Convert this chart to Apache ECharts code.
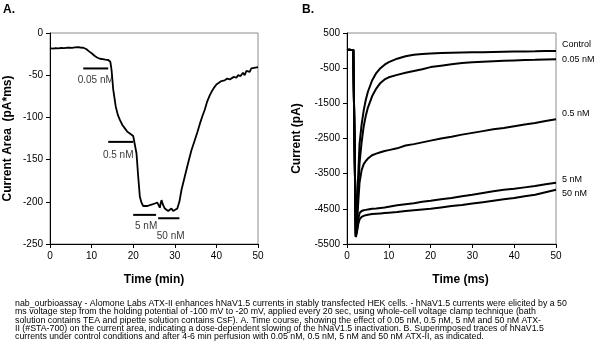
<!DOCTYPE html>
<html><head><meta charset="utf-8">
<script src="https://cdn.jsdelivr.net/npm/echarts@6/dist/echarts.min.js"></script>
<style>html,body{margin:0;padding:0;background:#fff}#c{width:596px;height:359px}</style>
</head><body><div id="c"></div>
<script>
// ---------- Panel A: current area time course ----------
const timeA = [0,0.7,1.3,2,2.7,3.3,4,4.7,5.3,6,6.7,7.3,8,8.7,9.3,10,10.7,11.3,12,12.7,13.3,14,14.5,14.8,15.2,15.8,16.3,16.8,17.4,18,18.6,19.2,19.6,20,20.4,20.8,21.2,21.6,22,22.4,22.8,23.3,24,24.6,25.2,25.8,26.2,26.4,26.6,26.8,27.2,27.6,28,28.4,28.8,29.2,29.6,30,30.6,31.1,31.6,32.4,33.2,34,34.8,35.4,36,36.6,37.2,37.8,38.4,38.8,39.4,40,40.6,41.2,42,42.6,43.2,43.6,44.2,44.8,45.2,45.8,46.4,46.8,47.2,47.6,48,48.4,48.8,49.4,50];
const areaA = [-18,-18.5,-18,-18.2,-17.6,-18,-17.5,-17.3,-17.6,-17,-16.8,-17.2,-17.5,-19,-21.5,-24,-27,-29,-30.5,-31,-31.5,-32,-34,-44,-67,-87,-97,-103,-109,-113,-117,-119,-121,-122,-124,-143,-170,-194,-201,-205,-206,-205,-204,-203,-202,-201,-199,-207,-202,-198,-204,-208,-207,-211,-209,-208,-211,-210,-208,-200,-186,-170,-154,-139,-127,-118,-108,-99,-91,-81,-74,-70,-65,-61,-59,-57,-56,-54,-55,-53,-52,-53,-50,-51,-47,-50,-45,-44,-46,-42,-43,-41,-40.5];
const annLabels = ['0.05 nM','0.5 nM','5 nM','50 nM'];
const annStart  = [8, 14, 20, 26];
const annEnd    = [14, 20, 25.5, 31.1];
const annLevel  = [-42, -129, -215.5, -219.5];
const annTextX  = [11, 16.4, 23.1, 29];
const annTextY  = [-56, -144.5, -229, -240.5];

// ---------- Panel B: superimposed current traces ----------
const timeB = [0,0.5,1,1.5,1.8,2.1,2.4,2.7,3,3.5,4,4.5,5,6,7,8,9,10,12,14,16,18,20,22.5,25,27.5,30,32.5,35,37.5,40,42.5,45,47.5,50];
const traceNames = ['Control','0.05 nM','0.5 nM','5 nM','50 nM'];
const control = [20,25,20,20,-2600,-5200,-4300,-3500,-2650,-2100,-1700,-1400,-1170,-850,-640,-500,-400,-330,-230,-160,-120,-100,-85,-72,-62,-55,-48,-44,-38,-32,-28,-24,-20,-15,-10];
const nM005   = [20,25,20,20,-2600,-5250,-4600,-3900,-3200,-2600,-2150,-1850,-1620,-1300,-1080,-920,-820,-760,-690,-630,-580,-530,-470,-430,-390,-355,-335,-315,-300,-290,-280,-270,-262,-252,-243];
const nM05    = [20,25,20,20,-2600,-5280,-4900,-4300,-3750,-3400,-3230,-3140,-3070,-2975,-2930,-2890,-2855,-2830,-2780,-2700,-2660,-2610,-2560,-2500,-2450,-2390,-2340,-2290,-2240,-2200,-2150,-2100,-2060,-2000,-1950];
const nM5     = [20,25,20,20,-2600,-5300,-5100,-4800,-4620,-4560,-4540,-4530,-4520,-4500,-4490,-4475,-4460,-4440,-4400,-4370,-4340,-4300,-4270,-4230,-4190,-4140,-4100,-4050,-4000,-3960,-3930,-3890,-3850,-3800,-3760];
const nM50    = [20,25,20,20,-2600,-5300,-5150,-4930,-4800,-4730,-4700,-4680,-4670,-4650,-4640,-4630,-4620,-4610,-4590,-4560,-4540,-4520,-4500,-4460,-4420,-4390,-4350,-4310,-4270,-4230,-4190,-4140,-4100,-4030,-3960];
const traceVals = [control, nM005, nM05, nM5, nM50];
const endLabelDy = [-6, 0, -6, -3, 4];

const caption = [
 'nab_ourbioassay - Alomone Labs ATX-II enhances hNaV1.5 currents in stably transfected HEK cells. - hNaV1.5 currents were elicited by a 50',
 'ms voltage step from the holding potential of -100 mV to -20 mV, applied every 20 sec, using whole-cell voltage clamp technique (bath',
 'solution contains TEA and pipette solution contains CsF). A. Time course, showing the effect of 0.05 nM, 0.5 nM, 5 nM and 50 nM ATX-',
 'II (#STA-700) on the current area, indicating a dose-dependent slowing of the hNaV1.5 inactivation. B. Superimposed traces of hNaV1.5',
 'currents under control conditions and after 4-6 min perfusion with 0.05 nM, 0.5 nM, 5 nM and 50 nM ATX-II, as indicated.'
];

const sans = '"Liberation Sans",Arial,sans-serif';

function xAx(idx, name, pad) {
  return {
    type: 'value', gridIndex: idx, min: 0, max: 50, interval: 10,
    name: name, nameLocation: 'middle', nameGap: 30,
    nameTextStyle: {fontFamily: sans, fontWeight: 'bold', fontSize: 12, color: '#000', padding: pad},
    axisLine: {show: true, onZero: false, lineStyle: {color: '#000', width: 1}},
    axisTick: {show: true, length: 4, lineStyle: {color: '#000'}},
    axisLabel: {fontFamily: sans, fontSize: 10, color: '#000', margin: 7, formatter: v => String(v)},
    splitLine: {show: false}
  };
}
function yAx(idx, name, min, max, interval, gap) {
  return {
    type: 'value', gridIndex: idx, min: min, max: max, interval: interval,
    name: name, nameLocation: 'middle', nameGap: gap, nameRotate: 90,
    nameTextStyle: {fontFamily: sans, fontWeight: 'bold', fontSize: 12, color: '#000'},
    axisLine: {show: true, onZero: false, lineStyle: {color: '#000', width: 1}},
    axisTick: {show: true, length: 4, lineStyle: {color: '#000'}},
    axisLabel: {fontFamily: sans, fontSize: 10, color: '#000', margin: 7, formatter: v => String(v)},
    splitLine: {show: false}
  };
}

const series = [];
series.push({
  type: 'line', xAxisIndex: 0, yAxisIndex: 0, symbol: 'none',
  data: timeA.map((t, i) => [t, areaA[i]]),
  lineStyle: {color: '#000', width: 1.8}, z: 3
});
annLabels.forEach((lab, i) => {
  series.push({
    type: 'line', xAxisIndex: 0, yAxisIndex: 0, symbol: 'none',
    data: [[annStart[i], annLevel[i]], [annEnd[i], annLevel[i]]],
    lineStyle: {color: '#000', width: 2}
  });
});
series.push({
  type: 'scatter', xAxisIndex: 0, yAxisIndex: 0, symbolSize: 0,
  data: annLabels.map((lab, i) => [annTextX[i], annTextY[i], lab]),
  label: {show: true, position: 'inside', formatter: p => p.data[2],
          fontFamily: sans, fontSize: 10, color: '#000'},
  itemStyle: {color: 'rgba(0,0,0,0)'}
});
traceNames.forEach((nm, i) => {
  series.push({
    type: 'line', name: nm, xAxisIndex: 1, yAxisIndex: 1, symbol: 'none',
    data: timeB.map((t, k) => [t, traceVals[i][k]]),
    lineStyle: {color: '#000', width: 2},
    endLabel: {show: true, formatter: '{a}', distance: 6, offset: [0, endLabelDy[i]],
               fontFamily: sans, fontSize: 9, color: '#000'}
  });
});

const graphic = [
  {type: 'text', left: 3, top: 4, style: {text: 'A.', font: 'bold 12px ' + sans, fill: '#000'}},
  {type: 'text', left: 302, top: 4, style: {text: 'B.', font: 'bold 12px ' + sans, fill: '#000'}}
];
caption.forEach((ln, i) => {
  graphic.push({type: 'text', left: 15, top: 299 + i * 8.35,
    style: {text: ln, font: '8.8px ' + sans, fill: '#000'}});
});

const chart = echarts.init(document.getElementById('c'), null, {renderer: 'canvas'});
chart.setOption({
  animation: false,
  backgroundColor: '#fff',
  grid: [
    {left: 50, top: 33, width: 208, height: 211, show: true, borderColor: '#8c8c8c', borderWidth: 1},
    {left: 347, top: 33, width: 209, height: 211, show: true, borderColor: '#8c8c8c', borderWidth: 1}
  ],
  xAxis: [xAx(0, 'Time (min)', [0, 0, 0, 0]), xAx(1, 'Time (ms)', [0, 0, 0, 18])],
  yAxis: [yAx(0, 'Current Area  (pA*ms)', -250, 0, 50, 36), yAx(1, 'Current (pA)', -5500, 500, 1000, 44)],
  series: series,
  graphic: graphic
});
</script></body></html>
